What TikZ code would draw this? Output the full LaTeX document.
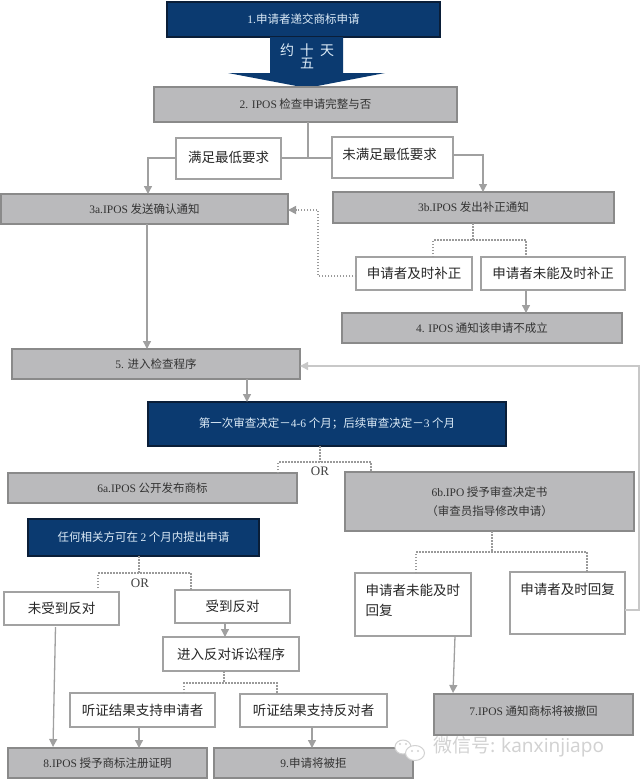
\documentclass[tikz,border=0pt]{standalone}
\usepackage{fontspec}
\setmainfont{Noto Sans CJK SC}
\newfontfamily\latserif{Liberation Serif}
\newfontfamily\wmsans{Noto Sans}
\newcommand{\lat}[1]{{\latserif #1}}
\newcommand{\up}[2]{\raisebox{#1}[\height][\depth]{#2}}
\usetikzlibrary{arrows.meta}
\definecolor{navy}{HTML}{0B3A70}
\definecolor{navyedge}{HTML}{0A1E38}
\definecolor{greyfill}{HTML}{BABABC}
\definecolor{greyedge}{HTML}{8A8A8A}
\definecolor{whiteedge}{HTML}{A2A2A2}
\definecolor{linegrey}{HTML}{A0A0A0}
\definecolor{paleline}{HTML}{C8C8C8}
\definecolor{dotgrey}{HTML}{9A9A9A}
\definecolor{wm}{HTML}{D2D2D2}
\definecolor{lightblue}{HTML}{DCEBF7}
\tikzset{
  base/.style={inner sep=0pt,outer sep=0pt,align=center,line width=1.5pt},
  greybox/.style={base,draw=greyedge,fill=greyfill,text=black!80,font=\fontsize{11.5}{19}\selectfont},
  whitebox/.style={base,draw=whiteedge,fill=white,text=black!85,font=\fontsize{13.5}{20}\selectfont},
  bluebox/.style={base,draw=navyedge,fill=navy,text=lightblue,font=\fontsize{11.5}{15}\selectfont},
  link/.style={draw=linegrey,line width=1.3pt},
  flow/.style={link,-{Triangle[width=8pt,length=8pt]}},
  paleflow/.style={draw=paleline,line width=1.3pt,-{Triangle[width=8pt,length=8pt]}},
  dots/.style={draw=dotgrey,line width=1.7pt,dash pattern=on 1.5pt off 1.5pt},
  dotsflow/.style={dots,-{Triangle[width=8pt,length=8pt]}},
  ortext/.style={inner sep=0pt,font=\fontsize{13}{13}\selectfont\latserif,text=black!75},
}
\newcommand{\mybox}[7]{\node[#2,minimum width={(#5-#3)*1pt},minimum height={(#6-#4)*1pt}] (#1) at ({(#3+#5)/2},{(#4+#6)/2}) {#7};}
\begin{document}
\begin{tikzpicture}[x=1pt,y=-1pt]
\useasboundingbox (0,0) rectangle (640,779);
% top
\mybox{b1}{bluebox}{167}{2}{440}{37}{\lat{1.}申请者递交商标申请}
\fill[navy] (270,37) -- (343,37) -- (343,73) -- (385,73) -- (307,88) -- (228,73) -- (270,73) -- cycle;
\node[inner sep=0pt,align=center,text=lightblue,font=\fontsize{14}{13}\selectfont] (days) at (307,56) {约\hspace{6pt}十\hspace{6pt}天\\五};
\mybox{b2}{greybox}{154}{87}{457}{122}{\lat{2. IPOS} 检查申请完整与否}
\mybox{meet}{whitebox}{176}{138}{281}{179}{\up{1pt}{满足最低要求}}
\mybox{notmeet}{whitebox}{332}{137}{453}{178}{\up{3pt}{\kern-6pt 未满足最低要求}}
\mybox{b3a}{greybox}{1}{194}{288}{224}{\lat{3a.IPOS} 发送确认通知}
\mybox{b3b}{greybox}{333}{192}{614}{223}{\lat{3b.IPOS} 发出补正通知}
\mybox{ontime}{whitebox}{356}{257}{472}{290}{申请者及时补正}
\mybox{late}{whitebox}{481}{257}{625}{290}{申请者未能及时补正}
\mybox{b4}{greybox}{342}{313}{622}{343}{\lat{4. IPOS} 通知该申请不成立}
\mybox{b5}{greybox}{12}{349}{300}{379}{\lat{5.} 进入检查程序}
\mybox{exam}{bluebox}{148}{402}{506}{446}{第一次审查决定－\lat{4-6} 个月；后续审查决定－\lat{3} 个月}
\mybox{b6a}{greybox}{8}{473}{297}{503}{\lat{6a.IPOS} 公开发布商标}
\mybox{b6b}{greybox}{345}{472}{634}{531}{\lat{6b.IPO} 授予审查决定书\\（审查员指导修改申请）}
\mybox{any}{bluebox}{28}{519}{259}{556}{任何相关方可在 \lat{2} 个月内提出申请}
\mybox{lateans}{whitebox}{355}{573}{471}{636}{\up{4pt}{\parbox{95pt}{\raggedright 申请者未能及时\\回复}}}
\mybox{ontimeans}{whitebox}{510}{572}{625}{634}{\up{14pt}{申请者及时回复}}
\mybox{noobj}{whitebox}{4}{592}{119}{625}{未受到反对}
\mybox{obj}{whitebox}{175}{590}{290}{623}{受到反对}
\mybox{opp}{whitebox}{163}{637}{299}{671}{进入反对诉讼程序}
\mybox{hearA}{whitebox}{70}{693}{215}{727}{听证结果支持申请者}
\mybox{hearB}{whitebox}{240}{694}{387}{727}{听证结果支持反对者}
\mybox{b7}{greybox}{434}{694}{633}{735}{\up{3pt}{\lat{7.IPOS} 通知商标将被撤回}}
\mybox{b8}{greybox}{8}{748}{207}{778}{\lat{8.IPOS} 授予商标注册证明}
\mybox{b9}{greybox}{214}{748}{413}{778}{\lat{9.}申请将被拒}
\node[ortext] (or1) at (320,471) {OR};
\node[ortext] (or2) at (140,583) {OR};
% junctions
\coordinate (j2) at (308,158);
\coordinate (jmeet) at (148,158);
\coordinate (jnot) at (483,155);
\coordinate (j3b) at (473,240);
\coordinate (j3bl) at (433,240);
\coordinate (j3br) at (526,240);
\coordinate (jback) at (318,276);
\coordinate (jbackb) at (318,210);
\coordinate (jexam) at (320,462);
\coordinate (jexaml) at (278,462);
\coordinate (jexamr) at (371,462);
\coordinate (j6b) at (492,552);
\coordinate (j6bl) at (416,552);
\coordinate (j6br) at (587,552);
\coordinate (jany) at (139,573);
\coordinate (janyl) at (98,573);
\coordinate (janyr) at (191,573);
\coordinate (jopp) at (224,683);
\coordinate (joppl) at (184,683);
\coordinate (joppr) at (277,683);
\coordinate (jre1) at (639,610);
\coordinate (jre2) at (639,366);
\coordinate (x147) at (147,300);
\coordinate (x247) at (247,390);
\coordinate (x225) at (225,630);
\coordinate (x139) at (139,737);
\coordinate (x312) at (312,737);
% solid links
\draw[link] (b2.south -| j2) -- (j2);
\draw[link] (meet.east |- j2) -- (notmeet.west |- j2);
\draw[flow] (meet.west |- j2) -- (jmeet) -- (b3a.north -| jmeet);
\draw[flow] (notmeet.east |- jnot) -- (jnot) -- (b3b.north -| jnot);
\draw[flow] (late.south -| j3br) -- (b4.north -| j3br);
\draw[flow] (b3a.south -| x147) -- (b5.north -| x147);
\draw[flow] (b5.south -| x247) -- (exam.north -| x247);
\draw[flow] (obj.south -| x225) -- (opp.north -| x225);
\draw[flow] (hearA.south -| x139) -- (b8.north -| x139);
\draw[flow] (hearB.south -| x312) -- (b9.north -| x312);
\draw[flow] (noobj.south) ++(-6,2) coordinate (n1) -- (53,747) coordinate (n2);
\draw[flow] (lateans.south) ++(42,0) -- (453,693);
\draw[paleflow] (ontimeans.east |- jre1) -- (jre1) -- (jre2) -- (b5.east |- jre2);
% dotted links
\draw[dots] (b3b.south -| j3b) -- (j3b);
\draw[dots] (ontime.north -| j3bl) -- (j3bl) -- (j3br) -- (late.north -| j3br);
\draw[dotsflow] (ontime.west |- jback) -- (jback) -- (jbackb) -- (b3a.east |- jbackb);
\draw[dots] (exam.south -| jexam) -- (jexam);
\draw[dots] (b6a.north -| jexaml) -- (jexaml) -- (jexamr) -- (b6b.north -| jexamr);
\draw[dots] (b6b.south -| j6b) -- (j6b);
\draw[dots] (lateans.north -| j6bl) -- (j6bl) -- (j6br) -- (ontimeans.north -| j6br);
\draw[dots] (any.south -| jany) -- (jany);
\draw[dots] (janyl |- noobj.north) ++(0,-4) -- (janyl) -- (janyr) -- (janyr |- obj.north);
\draw[dots] (opp.south -| jopp) -- (jopp);
\draw[dots] (hearA.north -| joppl) -- (joppl) -- (joppr) -- (hearB.north -| joppr);
% watermark
\draw[wm,line width=1pt,fill=white] (403,747) ellipse (8 and 7);
\draw[wm,line width=1pt,fill=white] (415,753) ellipse (9.5 and 7.5);
\fill[wm] (400,744) circle (1.2) (406,744) circle (1.2) (412,751) circle (1.2) (418,751) circle (1.2);
\node[inner sep=0pt,anchor=west,text=wm,font=\fontsize{19}{19}\selectfont] (mark) at (433,747) {微信号: {\wmsans kanxinjiapo}};
\end{tikzpicture}
\end{document}
